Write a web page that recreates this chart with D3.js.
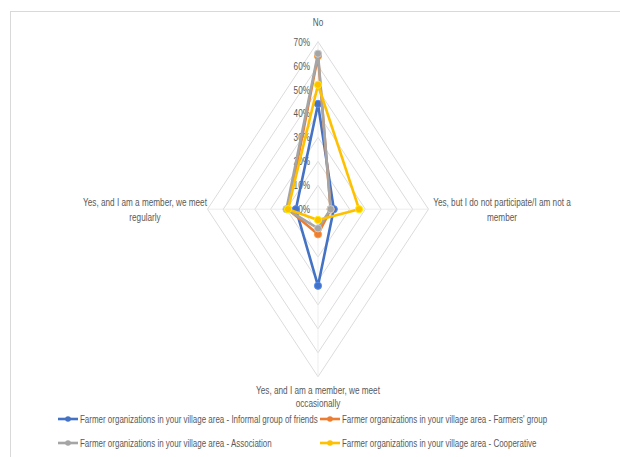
<!DOCTYPE html>
<html><head><meta charset="utf-8">
<script src="https://cdn.jsdelivr.net/npm/d3@7"></script>
<style>body{margin:0;background:#fff;} text{font-family:"Liberation Sans","Arial",sans-serif;fill:#595959;}</style>
</head><body><svg id="c" width="620" height="457"></svg>
<script>
const categories = ["No", "Yes, but I do not participate/I am not a member", "Yes, and I am a member, we meet occasionally", "Yes, and I am a member, we meet regularly"];
const categoryLines = [["No"], ["Yes, but I do not participate/I am not a", "member"], ["Yes, and I am a member, we meet", "occasionally"], ["Yes, and I am a member, we meet", "regularly"]];
const seriesNames = [
  "Farmer organizations in your village area - Informal group of friends",
  "Farmer organizations in your village area - Farmers' group",
  "Farmer organizations in your village area - Association",
  "Farmer organizations in your village area - Cooperative"
];
const informal = [0.44, 0.10, 0.32, 0.14];
const farmers = [0.64, 0.08, 0.105, 0.19];
const association = [0.65, 0.08, 0.08, 0.20];
const cooperative = [0.52, 0.26, 0.045, 0.19];
const tickValues = [0, 0.1, 0.2, 0.3, 0.4, 0.5, 0.6, 0.7];
const colors = ["#4472C4", "#ED7D31", "#A5A5A5", "#FFC000"];

const series = [informal, farmers, association, cooperative];
const svg = d3.select("#c");
function narrowText(sel, x, y, str, anchor, size, sx) {
  return sel.append("text").attr("transform", `translate(${x},${y}) scale(${sx || 0.745},1)`)
    .attr("text-anchor", anchor).attr("font-size", size).text(str);
}
svg.append("rect").attr("x", 10.5).attr("y", 11.5).attr("width", 620).attr("height", 460)
  .attr("fill", "none").attr("stroke", "#d9d9d9");

const cx = 318, cy = 209.2;
const rX = d3.scaleLinear().domain([0, 0.7]).range([0, 110.5]);
const rY = d3.scaleLinear().domain([0, 0.7]).range([0, 167.5]);
const dirs = [[0, -1], [1, 0], [0, 1], [-1, 0]];
const pt = (v, i) => [cx + dirs[i][0] * rX(v), cy + dirs[i][1] * rY(v)];

const g = svg.append("g");
tickValues.slice(1).forEach(t => {
  g.append("path").attr("d", d3.line()(dirs.map((d, i) => pt(t, i))) + "Z")
    .attr("fill", "none").attr("stroke", "#dcdcdc").attr("stroke-width", 1);
});
dirs.forEach((d, i) => {
  const p = pt(0.7, i);
  g.append("line").attr("x1", cx).attr("y1", cy).attr("x2", p[0]).attr("y2", p[1])
    .attr("stroke", "#e8e8e8").attr("stroke-width", 0.8);
});
tickValues.forEach(t => {
  narrowText(g, cx - 8, cy - rY(t) + 4, d3.format(".0%")(t), "end", 11);
});
const labelPos = [[cx, 26, 15], [502, 206, 15], [cx, 394, 13], [145, 206, 15]];
categoryLines.forEach((lines, i) => {
  lines.forEach((l, j) => {
    narrowText(g, labelPos[i][0], labelPos[i][1] + j * labelPos[i][2], l, "middle", 11);
  });
});
series.forEach((s, k) => {
  const pts = s.map((v, i) => pt(v, i));
  g.append("path").attr("d", d3.line()(pts) + "Z").attr("fill", "none")
    .attr("stroke", colors[k]).attr("stroke-width", 2.6).attr("stroke-linejoin", "round");
  g.selectAll(null).data(pts).join("circle").attr("cx", d => d[0]).attr("cy", d => d[1])
    .attr("r", 3.6).attr("fill", colors[k]).attr("stroke", d3.color(colors[k]).brighter(0.6)).attr("stroke-width", 1);
});
const legPos = [[58, 419], [320, 419], [58, 443], [320, 443]];
seriesNames.forEach((n, k) => {
  const [x, y] = legPos[k];
  const lg = svg.append("g");
  lg.append("line").attr("x1", x).attr("x2", x + 20).attr("y1", y).attr("y2", y)
    .attr("stroke", colors[k]).attr("stroke-width", 2.6);
  lg.append("circle").attr("cx", x + 10).attr("cy", y).attr("r", 2.8).attr("fill", colors[k]);
  narrowText(lg, x + 22, y + 3.5, n, "start", 11, 0.725);
});
</script></body></html>
